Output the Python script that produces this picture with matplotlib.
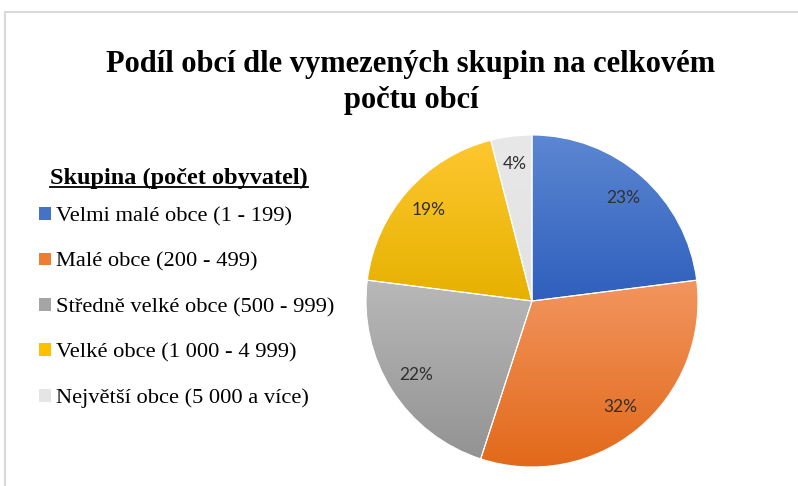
import numpy as np
import matplotlib.pyplot as plt
from matplotlib.colors import to_rgb
from matplotlib.patches import Rectangle
from matplotlib.lines import Line2D

# data
skupiny = ['Velmi malé obce (1 - 199)', 'Malé obce (200 - 499)',
           'Středně velké obce (500 - 999)', 'Velké obce (1 000 - 4 999)',
           'Největší obce (5 000 a více)']
podil = [23, 32, 22, 19, 4]

# barvy - horni (svetlejsi) a spodni (tmavsi) cast prechodu
barvy_horni = ['#5d87d2', '#f2955f', '#b8b8b8', '#fec730', '#e8e8e8']
barvy_dolni = ['#2f5fbd', '#e2691a', '#939393', '#e6b100', '#e2e2e2']
barvy = ['#4472c4', '#ed7d31', '#a5a5a5', '#ffc000', '#e5e5e5']

W, H = 798, 486
fig = plt.figure(figsize=(W / 100, H / 100), dpi=100)

# ramecek grafu
fig.add_artist(Rectangle((5 / W, -0.1), 1.2, (H - 12) / H + 0.1, transform=fig.transFigure,
                         fill=False, edgecolor='#d9d9d9', linewidth=1.5))

# kolac
cx, cy, r = 532, 301, 166
ax = fig.add_axes([(cx - r) / W, (H - cy - r) / H, 2 * r / W, 2 * r / H])
wedges, texts, autotexts = ax.pie(podil, colors=barvy, startangle=90, counterclock=False,
                                  autopct='%1.0f%%', pctdistance=0.83,
                                  wedgeprops=dict(edgecolor='white', linewidth=0.8),
                                  textprops=dict(family='Lato', fontsize=12.5, color='#303030'))

# prechod barev v kazde vysecce
for w, c1, c2 in zip(wedges, barvy_horni, barvy_dolni):
    bb = w.get_path().get_extents(w.get_patch_transform())
    t = np.linspace(0, 1, 256)[:, None]
    grad = (1 - t) * np.array(to_rgb(c1)) + t * np.array(to_rgb(c2))
    img = ax.imshow(grad[:, None, :].repeat(2, axis=1), extent=[bb.x0, bb.x1, bb.y0, bb.y1],
                    origin='upper', aspect='auto', zorder=w.get_zorder(), interpolation='bilinear')
    img.set_clip_path(w)
for w in wedges:
    w.set_facecolor('none')
    w.set_zorder(3)
for t in autotexts:
    t.set_zorder(4)
ax.set_xlim(-1, 1)
ax.set_ylim(-1, 1)
ax.axis('off')

# nadpis
fig.text(411 / W, 1 - 82.5 / H, 'Podíl obcí dle vymezených skupin na celkovém\npočtu obcí',
         ha='center', va='center', family='Liberation Serif', fontweight='bold',
         fontsize=22, linespacing=1.3)

# legenda
tit = fig.text(50 / W, 1 - 178 / H, 'Skupina (počet obyvatel)', ha='left', va='center',
               family='Liberation Serif', fontweight='bold', fontsize=17.5)
fig.canvas.draw()
bb = tit.get_window_extent()
fig.add_artist(Line2D([bb.x0 / W, bb.x1 / W], [(bb.y0 + 2) / H, (bb.y0 + 2) / H],
                      transform=fig.transFigure, color='black', linewidth=1.3))

fig.legend(wedges, skupiny, loc='upper left', bbox_to_anchor=(19 / W, 1 - 187 / H),
           frameon=False, prop=dict(family='Liberation Serif', size=16.2),
           handlelength=0.5, handleheight=0.5, handletextpad=0.25, labelspacing=1.15)
leg_handles = fig.legends[0].legend_handles
for h, c in zip(leg_handles, barvy):
    h.set_facecolor(c)
    h.set_edgecolor('none')

fig.savefig('out.png', dpi=100)
